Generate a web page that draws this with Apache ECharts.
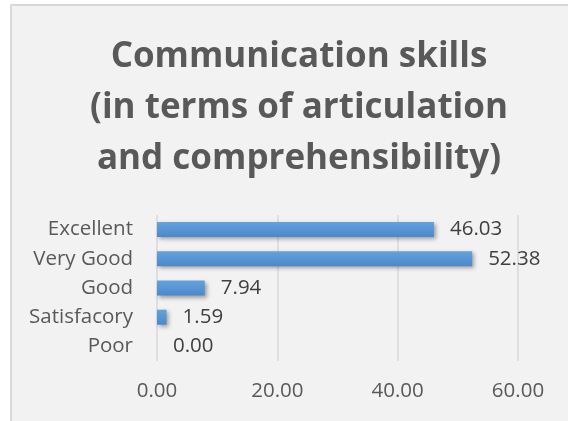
<!DOCTYPE html>
<html>
<head>
<meta charset="utf-8">
<script src="https://cdn.jsdelivr.net/npm/echarts@6/dist/echarts.min.js"></script>
<style>
  html, body { margin: 0; padding: 0; background: #fff; overflow: hidden; }
  #chart {
    position: absolute; left: 10px; top: 4px;
    width: 556px; height: 415px;
    border-left: 2px solid #d9d9d9; border-top: 2px solid #d9d9d9;
    background: #f2f2f2;
  }
</style>
</head>
<body>
<div id="chart"></div>
<script>
// 데이터 (위에서 아래 순서)
var categories = ['Excellent', 'Very Good', 'Good', 'Satisfacory', 'Poor'];
var values = [46.03, 52.38, 7.94, 1.59, 0.00];
var xTicks = [0, 20, 40, 60];

window.onload = function() {
	drawChart();
}

function drawChart() {
	var myChart = echarts.init(document.getElementById('chart'));

	var option = {
		backgroundColor: '#f2f2f2',
		title: {
			text: 'Communication skills\n(in terms of articulation\nand comprehensibility)',
			left: 282,
			top: 21,
			textAlign: 'center',
			textStyle: {
				fontFamily: 'Open Sans',
				fontWeight: 'bold',
				fontSize: 35,
				lineHeight: 51,
				color: '#595959'
			}
		},
		grid: {
			left: 145,
			right: 50,
			top: 209,
			bottom: 60
		},
		xAxis: {
			type: 'value',
			min: xTicks[0],
			max: xTicks[xTicks.length - 1],
			interval: 20,
			axisLine: { show: false },
			axisTick: { show: false },
			splitLine: { lineStyle: { color: '#d9d9d9', width: 1.5 } },
			axisLabel: {
				margin: 20,
				fontFamily: 'Open Sans',
				fontSize: 20.5,
				color: '#595959',
				formatter: function(v) { return v.toFixed(2); }
			}
		},
		yAxis: {
			type: 'category',
			inverse: true,
			data: categories,
			axisLine: { show: false },
			axisTick: { show: false },
			axisLabel: {
				margin: 24,
				fontFamily: 'Open Sans',
				fontSize: 20.5,
				color: '#595959'
			}
		},
		series: [
			{
				type: 'bar',
				data: values,
				barWidth: 15,
				itemStyle: {
					color: new echarts.graphic.LinearGradient(0, 0, 0, 1, [
						{ offset: 0, color: '#64a2dc' },
						{ offset: 1, color: '#4a88cc' }
					]),
					shadowColor: 'rgba(0,0,0,0.35)',
					shadowBlur: 4,
					shadowOffsetX: 2,
					shadowOffsetY: 2
				},
				label: {
					show: true,
					position: 'right',
					distance: 16,
					fontFamily: 'Open Sans',
					fontSize: 20.5,
					color: '#404040',
					formatter: function(p) { return p.value.toFixed(2); }
				}
			}
		]
	};

	myChart.setOption(option);
}
</script>
</body>
</html>
